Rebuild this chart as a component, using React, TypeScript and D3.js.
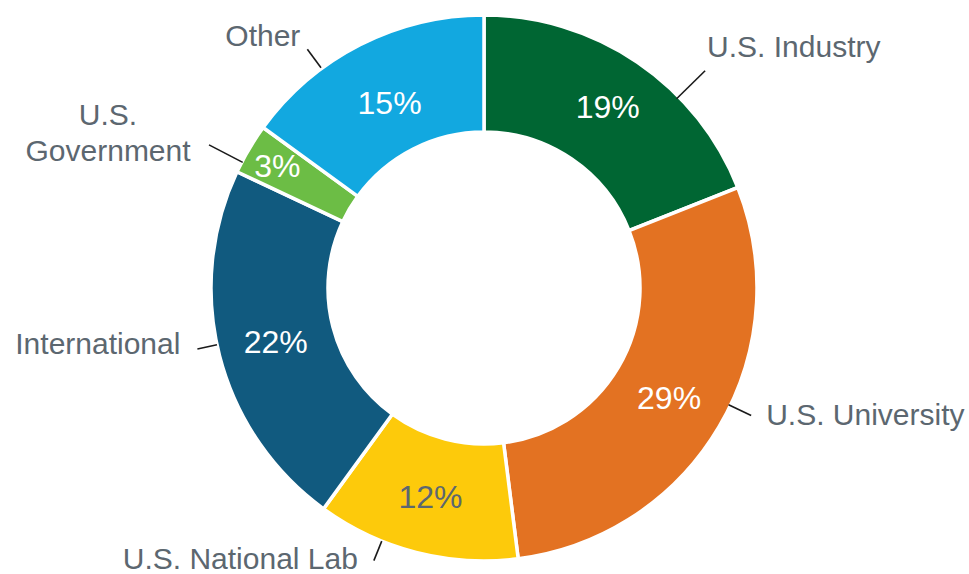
import React from "react";
import * as d3 from "d3";

const categories = ["U.S. Industry", "U.S. University", "U.S. National Lab", "International", "U.S. Government", "Other"];
const shares = [19, 29, 12, 22, 3, 15];
const colors = ["#006633", "#E37222", "#FDCA0B", "#115A7F", "#6CBD45", "#12A8E0"];
const valueTextColors = ["#FFFFFF", "#FFFFFF", "#5C6770", "#FFFFFF", "#FFFFFF", "#FFFFFF"];
const labelLines = [["U.S. Industry"], ["U.S. University"], ["U.S. National Lab"], ["International"], ["U.S.", "Government"], ["Other"]];

// annotation layout: leader angle (deg), leader radii, text offset from leader end
const leaderLayout = [
  { angle: 45.5, r1: 270, r2: 310, dx: 2, dy: -14, anchor: "start" },
  { angle: 115.5, r1: 271, r2: 296, dx: 15, dy: 10, anchor: "start" },
  { angle: 202, r1: 273, r2: 294, dx: -16, dy: 8, anchor: "end" },
  { angle: 258, r1: 273, r2: 293, dx: -17, dy: 5, anchor: "end" },
  { angle: 297.5, r1: 272, r2: 310, dx: -101, dy: -20, anchor: "middle" },
  { angle: 323.5, r1: 274, r2: 297, dx: -7, dy: -3, anchor: "end" },
];
const valueLabelRadius = [220, 215, 215, 215, 240, 208];

const W = 969;
const H = 574;
const cx = 484;
const cy = 288;
const outerR = 273;
const innerR = 156;

export default function App() {
  const pie = d3.pie<number>().sort(null).value((d) => d).startAngle(0).endAngle(2 * Math.PI);
  const arcs = pie(shares);
  const arc = d3.arc<d3.PieArcDatum<number>>().innerRadius(innerR).outerRadius(outerR);
  const polar = (deg: number, r: number) => {
    const a = (deg * Math.PI) / 180;
    return [r * Math.sin(a), -r * Math.cos(a)];
  };
  const font = "'Liberation Sans', Arial, sans-serif";
  return (
    <svg width={W} height={H} style={{ position: "absolute", left: 0, top: 0, background: "#fff" }}>
      <g transform={`translate(${cx},${cy})`}>
        {arcs.map((a, i) => (
          <path key={i} d={arc(a) || ""} fill={colors[i]} stroke="#fff" strokeWidth={3.5} strokeLinejoin="miter" />
        ))}
        {arcs.map((a, i) => {
          const la = d3.arc<d3.PieArcDatum<number>>().innerRadius(valueLabelRadius[i]).outerRadius(valueLabelRadius[i]);
          const [x, y] = la.centroid(a);
          return (
            <text key={"v" + i} x={x} y={y} dy="0.36em" textAnchor="middle" fill={valueTextColors[i]}
              fontFamily={font} fontSize={32}>
              {shares[i]}%
            </text>
          );
        })}
        {leaderLayout.map((l, i) => {
          const [x1, y1] = polar(l.angle, l.r1);
          const [x2, y2] = polar(l.angle, l.r2);
          return (
            <g key={"l" + i}>
              <line x1={x1} y1={y1} x2={x2} y2={y2} stroke="#1a1a1a" strokeWidth={1.6} />
              <text x={x2 + l.dx} y={y2 + l.dy} textAnchor={l.anchor as any} fill="#5C6770" fontFamily={font} fontSize={30}>
                {labelLines[i].map((t, j) => (
                  <tspan key={j} x={x2 + l.dx} dy={j === 0 ? 0 : 36}>{t}</tspan>
                ))}
              </text>
            </g>
          );
        })}
      </g>
    </svg>
  );
}
